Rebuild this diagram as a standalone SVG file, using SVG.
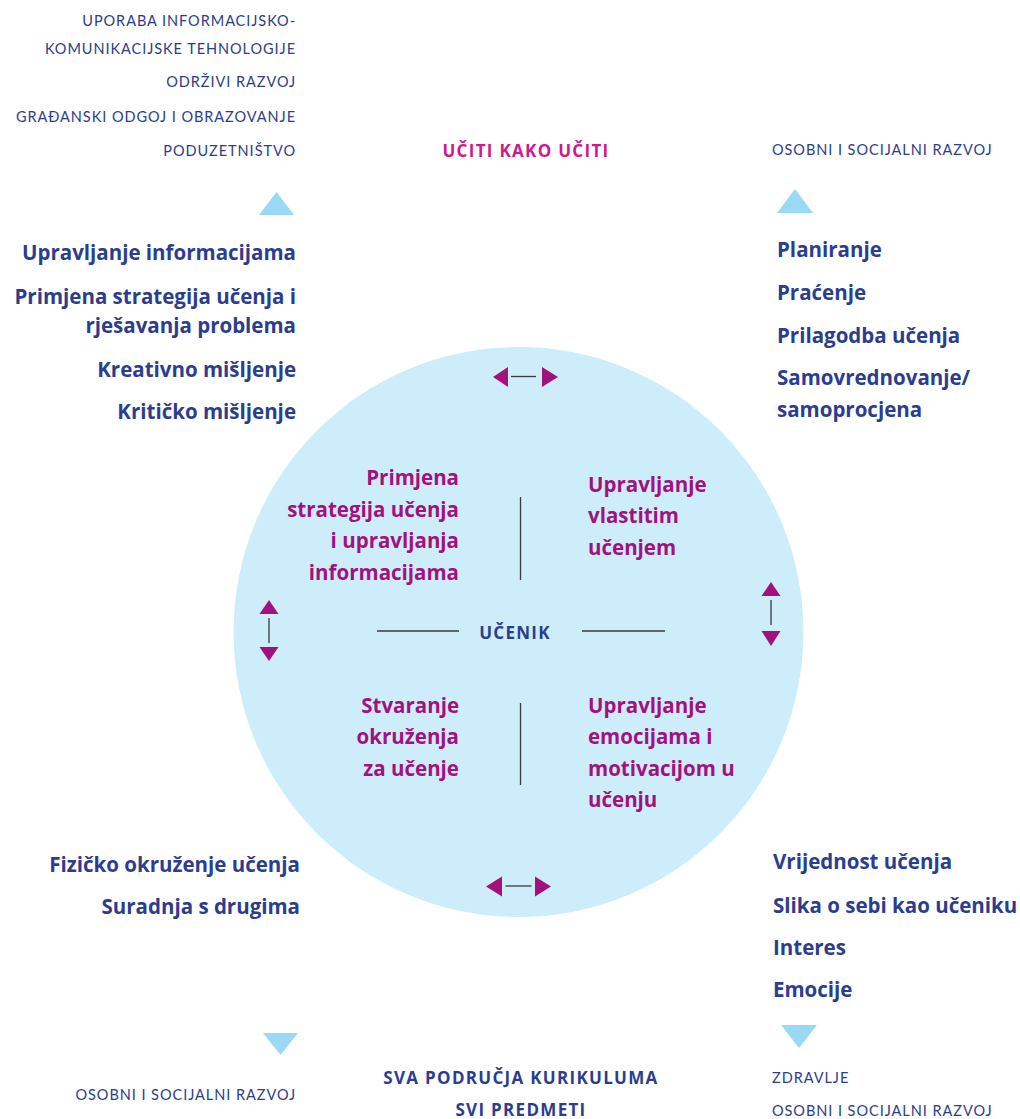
<svg xmlns="http://www.w3.org/2000/svg" width="1020" height="1119" viewBox="0 0 1020 1119">
<style>
text{font-family:"Open Sans","Noto Sans","Liberation Sans",sans-serif}
.cap{font-family:Lato,"Noto Sans",sans-serif;font-size:14.5px;fill:#2b3d8f;letter-spacing:0.95px}
.b{font-size:20.5px;font-weight:700;fill:#2b3d8f}
.m{font-size:20.5px;font-weight:700;fill:#a3117f}
.h{font-size:17px;font-weight:700;fill:#2b3d8f;letter-spacing:1.3px}
.e{text-anchor:end}
.c{text-anchor:middle}
.tri{fill:#9ad9f4}
.arr{fill:#a3117f}
.ln{stroke:#3a3a3a;stroke-width:1.3;fill:none}
</style>
<rect width="1020" height="1119" fill="#ffffff"/>
<g id="circle"><circle cx="518.5" cy="632" r="285" fill="#cdedfb"/></g>

<g id="top-left">
<text class="cap e" x="296" y="26">UPORABA INFORMACIJSKO-</text>
<text class="cap e" x="296" y="54">KOMUNIKACIJSKE TEHNOLOGIJE</text>
<text class="cap e" x="296" y="87">ODRŽIVI RAZVOJ</text>
<text class="cap e" x="296" y="122">GRAĐANSKI ODGOJ I OBRAZOVANJE</text>
<text class="cap e" x="296" y="156">PODUZETNIŠTVO</text>
<polygon class="tri" points="259,215 294,215 276.5,192"/>
</g>
<g id="title"><text class="h c" x="526" y="157" style="fill:#d1178b">UČITI KAKO UČITI</text></g>
<g id="top-right">
<text class="cap" x="772" y="155">OSOBNI I SOCIJALNI RAZVOJ</text>
<polygon class="tri" points="777,213 813,213 795,189"/>
</g>

<g id="list-top-left">
<text class="b e" x="296" y="260">Upravljanje informacijama</text>
<text class="b e" x="296" y="304">Primjena strategija učenja i</text>
<text class="b e" x="296" y="333">rješavanja problema</text>
<text class="b e" x="296" y="377">Kreativno mišljenje</text>
<text class="b e" x="296" y="419">Kritičko mišljenje</text>
</g>
<g id="list-top-right">
<text class="b" x="777" y="257">Planiranje</text>
<text class="b" x="777" y="300">Praćenje</text>
<text class="b" x="777" y="343">Prilagodba učenja</text>
<text class="b" x="777" y="385">Samovrednovanje/</text>
<text class="b" x="777" y="417">samoprocjena</text>
</g>

<g id="q-top-left">
<text class="m e" x="459" y="485">Primjena</text>
<text class="m e" x="459" y="517">strategija učenja</text>
<text class="m e" x="459" y="548">i upravljanja</text>
<text class="m e" x="459" y="580">informacijama</text>
</g>
<g id="q-top-right">
<text class="m" x="588" y="492">Upravljanje</text>
<text class="m" x="588" y="523">vlastitim</text>
<text class="m" x="588" y="555">učenjem</text>
</g>
<g id="center"><text class="h c" x="515" y="639">UČENIK</text></g>
<g id="q-bottom-left">
<text class="m e" x="459" y="713">Stvaranje</text>
<text class="m e" x="459" y="744">okruženja</text>
<text class="m e" x="459" y="776">za učenje</text>
</g>
<g id="q-bottom-right">
<text class="m" x="588" y="713">Upravljanje</text>
<text class="m" x="588" y="744">emocijama i</text>
<text class="m" x="588" y="776">motivacijom u</text>
<text class="m" x="588" y="807">učenju</text>
</g>

<g id="list-bottom-left">
<text class="b e" x="300" y="872">Fizičko okruženje učenja</text>
<text class="b e" x="300" y="914">Suradnja s drugima</text>
</g>
<g id="list-bottom-right">
<text class="b" x="773" y="869">Vrijednost učenja</text>
<text class="b" x="773" y="913">Slika o sebi kao učeniku</text>
<text class="b" x="773" y="955">Interes</text>
<text class="b" x="773" y="997">Emocije</text>
</g>

<g id="bottom-left">
<polygon class="tri" points="263,1033 298,1033 280.5,1055"/>
<text class="cap e" x="296" y="1100">OSOBNI I SOCIJALNI RAZVOJ</text>
</g>
<g id="bottom-center">
<text class="h c" x="521" y="1084">SVA PODRUČJA KURIKULUMA</text>
<text class="h c" x="521" y="1116">SVI PREDMETI</text>
</g>
<g id="bottom-right">
<polygon class="tri" points="781,1025 817,1025 799,1048"/>
<text class="cap" x="772" y="1083">ZDRAVLJE</text>
<text class="cap" x="772" y="1116">OSOBNI I SOCIJALNI RAZVOJ</text>
</g>

<g id="connectors">
<line class="ln" x1="520.5" y1="497" x2="520.5" y2="580"/>
<line class="ln" x1="520.5" y1="703" x2="520.5" y2="785"/>
<line class="ln" x1="377" y1="631" x2="459" y2="631"/>
<line class="ln" x1="582" y1="631" x2="665" y2="631"/>
<line class="ln" x1="511" y1="376.5" x2="536" y2="376.5"/>
<polygon class="arr" points="493,377 508,367 508,387"/>
<polygon class="arr" points="558,377 542,367 542,387"/>
<line class="ln" x1="505.5" y1="886" x2="531.5" y2="886"/>
<polygon class="arr" points="486,886.5 502,876.5 502,896.5"/>
<polygon class="arr" points="551,886.5 535,876.5 535,896.5"/>
<line class="ln" x1="269" y1="618" x2="269" y2="643"/>
<polygon class="arr" points="269,600 259.5,614 278.5,614"/>
<polygon class="arr" points="269,661 259.5,647 278.5,647"/>
<line class="ln" x1="771" y1="600" x2="771" y2="625"/>
<polygon class="arr" points="771,582 761.5,596 780.5,596"/>
<polygon class="arr" points="771,646 761.5,631 780.5,631"/>
</g>
</svg>
